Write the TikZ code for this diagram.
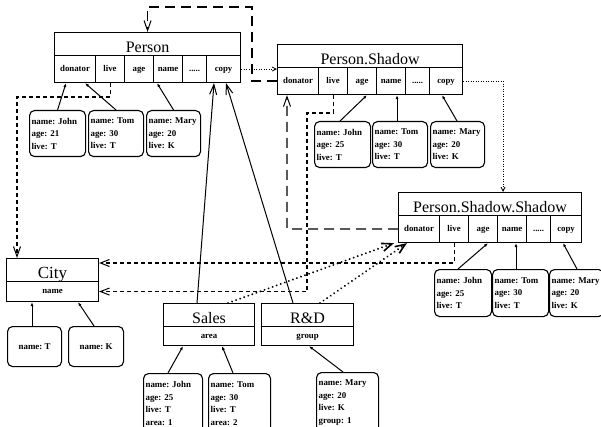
\documentclass[tikz,border=0pt]{standalone}
\usepackage{fontspec}
\setmainfont{Liberation Serif}
\usetikzlibrary{arrows.meta}
\frenchspacing

\tikzset{
  box/.style={draw, line width=1.1pt, anchor=north west, inner sep=0pt},
  ttl/.style={box, minimum height=23pt, text height=20pt, text depth=3pt,
              font=\fontsize{16}{16}\selectfont},
  cell/.style={box, minimum height=27pt, text height=6pt, text depth=1.5pt,
               font=\fontsize{8.8}{9}\selectfont\bfseries},
  inst/.style={draw, line width=1.1pt, rounded corners=5pt, anchor=north west,
               inner ysep=0pt, inner xsep=2pt, align=left,
               font=\fontsize{8.9}{12.5}\selectfont\bfseries},
  longdash/.style={line width=1.2pt, dash pattern=on 10pt off 6pt},
  shortdash/.style={line width=1.1pt, dash pattern=on 4pt off 3pt},
  finedots/.style={line width=0.9pt, dash pattern=on 0.9pt off 1.6pt},
  bigdots/.style={line width=2.1pt, line cap=round, dash pattern=on 0.01pt off 4.3pt},
  link/.style={line width=1pt},
  tipV/.style={-{Straight Barb[length=10pt,width=7pt,line width=1pt]}},
  tipC/.style={-{Straight Barb[length=9pt,width=7pt,line width=1pt]}},
  tipS/.style={-{Straight Barb[length=4pt,width=4pt,line width=0.8pt]}},
  tipT/.style={-{Straight Barb[length=10pt,width=8pt,line width=1.6pt]}},
  tipI/.style={-{Latex[length=4pt,width=3pt]}},
}

% a class with its six attribute cells
\newcommand\objclass[5]{% prefix, left, top, width, title
  \node[ttl, minimum width=#4pt] (#1) at (#2,#3) {#5};
  \node[cell, minimum width=41pt] (#1-don)  at ({#2},{#3+23})     {donator};
  \node[cell, minimum width=29pt] (#1-live) at ({#2+41},{#3+23})  {live};
  \node[cell, minimum width=29pt] (#1-age)  at ({#2+70},{#3+23})  {age};
  \node[cell, minimum width=29pt] (#1-name) at ({#2+99},{#3+23})  {name};
  \node[cell, minimum width=24pt] (#1-dots) at ({#2+128},{#3+23}) {.....};
  \node[cell, minimum width={#4-152}] (#1-copy) at ({#2+152},{#3+23}) {copy};
}

\begin{document}
\begin{tikzpicture}[x=1pt, y=-1pt]
\useasboundingbox (0,0) rectangle (601,427);

% classes
\objclass{P}{54}{32}{186}{Person}
\objclass{PS}{277}{44}{185}{Person.Shadow}
\objclass{PSS}{398}{192}{183}{Person.Shadow.Shadow}

\node[ttl, minimum width=92pt, font=\fontsize{17}{17}\selectfont] (City) at (6,258) {City};
\node[cell, minimum width=92pt, minimum height=20pt] (City-name) at (6,281) {name};
\node[ttl, minimum width=91pt] (Sales) at (163,303) {Sales};
\node[cell, minimum width=91pt, minimum height=19pt] (Sales-area) at (163,326) {area};
\node[ttl, minimum width=92pt] (RD) at (261,303) {R\&D};
\node[cell, minimum width=92pt, minimum height=19pt] (RD-group) at (261,326) {group};

% instances
\node[inst, text width=52pt, minimum height=46pt] (PJ) at (29,110)  {name: John\\age: 21\\live: T};
\node[inst, text width=51pt, minimum height=46pt] (PT) at (88,110)  {name: Tom\\age: 30\\live: T};
\node[inst, text width=50pt, minimum height=46pt] (PM) at (146,110) {name: Mary\\age: 20\\live: K};

\node[inst, text width=52pt, minimum height=46pt] (SJ) at (314,121) {name: John\\age: 25\\live: T};
\node[inst, text width=51pt, minimum height=46pt] (ST) at (372,121) {name: Tom\\age: 30\\live: T};
\node[inst, text width=50pt, minimum height=46pt] (SM) at (430,121) {name: Mary\\age: 20\\live: K};

\node[inst, text width=53pt, minimum height=47pt] (TJ) at (434,269) {name: John\\age: 25\\live: T};
\node[inst, text width=52pt, minimum height=47pt] (TT) at (492,269) {name: Tom\\age: 30\\live: T};
\node[inst, text width=50pt, minimum height=47pt] (TM) at (549,269) {name: Mary\\age: 20\\live: K};

\node[inst, align=center, minimum width=54pt, minimum height=40pt] (CT) at (7,326)  {name: T};
\node[inst, align=center, minimum width=55pt, minimum height=40pt] (CK) at (68,326) {name: K};

\node[inst, text width=55pt, minimum height=60pt] (AJ) at (143,373) {name: John\\age: 25\\live: T\\area: 1};
\node[inst, text width=58pt, minimum height=60pt] (AT) at (208,373) {name: Tom\\age: 30\\live: T\\area: 2};
\node[inst, text width=58pt, minimum height=60pt] (RM) at (316,372) {name: Mary\\age: 20\\live: K\\group: 1};

% bends of the routed connectors
\coordinate (kA) at (252,7);
\coordinate (kB) at (287,229);
\coordinate (kC) at (17,97);
\coordinate (kD) at (307,113);
\coordinate (kE) at (0,263);

% donator references
\draw[longdash, tipV] (PS-don.west) -| (kA) -| (P.north);
\draw[longdash, tipV] (PSS-don.west) -- (kB) -- (kB |- PS-don.south);

% live references to City
\draw[shortdash, tipV] (P-live.south) |- (kC) -- (kC |- City.north);
\draw[shortdash, tipC] (PS-live.south) |- (kD) |- (City-name.east);
\draw[shortdash, tipC] (PSS-live.south) |- (kE -| City.east);

% copy references
\draw[finedots, tipS] (P-copy.east) -- (P-copy.east -| PS-don.west);
\draw[finedots, tipS] (PS-copy.east) -| ([xshift=105pt]PSS.north west);

% Sales and R&D
\draw[link, tipV] ([xshift=34pt]Sales.north west) -- ([xshift=8pt]P-copy.south west);
\draw[link, tipV] ([xshift=32pt]RD.north west) -- ([xshift=20pt]P-copy.south west);
\draw[bigdots, tipT] ([xshift=65pt]Sales.north west) -- ([xshift=-4pt]PSS-don.south west);
\draw[bigdots, tipT] ([xshift=59pt]RD.north west) -- ([xshift=9pt]PSS-don.south west);

% instances to their attributes
\draw[link, tipI] (PJ.north) -- ([xshift=12pt]P-don.south west);
\draw[link, tipI] (PT.north) -- ([xshift=31pt]P-don.south west);
\draw[link, tipI] (PM.north) -- ([xshift=4pt]P-name.south west);

\draw[link, tipI] ([xshift=26pt]SJ.north west) -- ([xshift=20pt]PS-age.south west);
\draw[link, tipI] ([xshift=25pt]ST.north west) -- ([xshift=21pt]PS-name.south west);
\draw[link, tipI] ([xshift=27pt]SM.north west) -- ([xshift=13pt]PS-copy.south west);

\draw[link, tipI] ([xshift=24pt]TJ.north west) -- ([xshift=20pt]PSS-age.south west);
\draw[link, tipI] ([xshift=24pt]TT.north west) -- ([xshift=19pt]PSS-name.south west);
\draw[link, tipI] ([xshift=28pt]TM.north west) -- ([xshift=13pt]PSS-copy.south west);

\draw[link, tipI] ([xshift=25pt]CT.north west) -- ([xshift=26pt]City-name.south west);
\draw[link, tipI] ([xshift=26pt]CK.north west) -- ([xshift=72pt]City-name.south west);

\draw[link, tipI] ([xshift=25pt]AJ.north west) -- ([xshift=20pt]Sales-area.south west);
\draw[link, tipI] ([xshift=25pt]AT.north west) -- ([xshift=59pt]Sales-area.south west);
\draw[link, tipI] ([xshift=27pt]RM.north west) -- ([xshift=48pt]RD-group.south west);
\end{tikzpicture}
\end{document}
